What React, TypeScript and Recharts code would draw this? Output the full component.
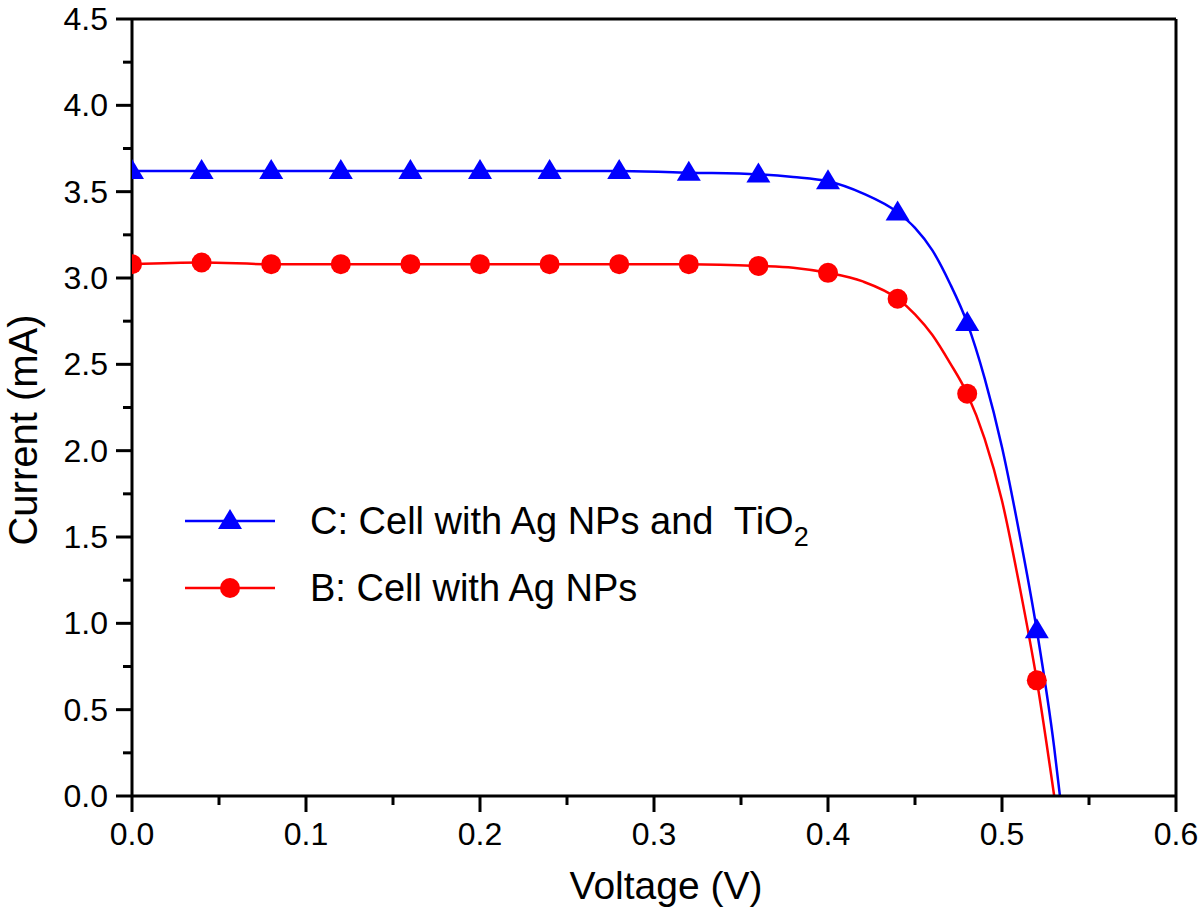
import React from 'react';
import { ComposedChart, Line, XAxis, YAxis, ReferenceLine, Legend } from 'recharts';

// marker positions (every 0.04 V)
const markerVoltage = [0, 0.04, 0.08, 0.12, 0.16, 0.2, 0.24, 0.28, 0.32, 0.36, 0.4, 0.44, 0.48, 0.52];
const cellCMarkers = [3.62, 3.62, 3.62, 3.62, 3.62, 3.62, 3.62, 3.62, 3.61, 3.60, 3.56, 3.38, 2.74, 0.96];
const cellBMarkers = [3.08, 3.09, 3.08, 3.08, 3.08, 3.08, 3.08, 3.08, 3.08, 3.07, 3.03, 2.88, 2.33, 0.67];

// measured curves
const curveVoltageC = [0, 0.04, 0.08, 0.12, 0.16, 0.2, 0.24, 0.28, 0.32, 0.36, 0.38, 0.4, 0.42, 0.44, 0.45, 0.46, 0.47, 0.48, 0.49, 0.5, 0.51, 0.52, 0.53, 0.5333];
const curveCurrentC = [3.62, 3.62, 3.62, 3.62, 3.62, 3.62, 3.62, 3.62, 3.61, 3.60, 3.585, 3.56, 3.49, 3.38, 3.29, 3.16, 2.97, 2.74, 2.42, 2.02, 1.52, 0.96, 0.28, 0];
const curveVoltageB = [0, 0.04, 0.08, 0.12, 0.16, 0.2, 0.24, 0.28, 0.32, 0.36, 0.38, 0.4, 0.42, 0.44, 0.45, 0.46, 0.47, 0.48, 0.49, 0.5, 0.51, 0.52, 0.53];
const curveCurrentB = [3.08, 3.09, 3.08, 3.08, 3.08, 3.08, 3.08, 3.08, 3.08, 3.07, 3.06, 3.03, 2.98, 2.88, 2.79, 2.67, 2.51, 2.33, 2.07, 1.71, 1.22, 0.67, 0];

const xTicks = [0, 0.05, 0.1, 0.15, 0.2, 0.25, 0.3, 0.35, 0.4, 0.45, 0.5, 0.55, 0.6];
const yTicks = [0, 0.25, 0.5, 0.75, 1, 1.25, 1.5, 1.75, 2, 2.25, 2.5, 2.75, 3, 3.25, 3.5, 3.75, 4, 4.25, 4.5];

const legendC = 'C: Cell with Ag NPs and  TiO';
const legendB = 'B: Cell with Ag NPs';

const BLUE = '#0000ff';
const RED = '#ff0000';
const FONT = '"Liberation Sans", Arial, Helvetica, sans-serif';

const zip = (xs: number[], ys: number[]) => xs.map((v, i) => ({ v, i: ys[i] }));
const curveC = zip(curveVoltageC, curveCurrentC);
const curveB = zip(curveVoltageB, curveCurrentB);
const dotsC = zip(markerVoltage, cellCMarkers);
const dotsB = zip(markerVoltage, cellBMarkers);

const isMajor = (v: number, step: number) => Math.abs(v / step - Math.round(v / step)) < 1e-6;

const triPath = (cx: number, cy: number) =>
  `M${cx},${cy - 12} L${cx + 12},${cy + 8} L${cx - 12},${cy + 8} Z`;

const Triangle = (props: any) => {
  const { cx, cy, index } = props;
  if (cx == null || cy == null) return null;
  return <path key={`t-${index}`} d={triPath(cx, cy)} fill={BLUE} />;
};

const Circle = (props: any) => {
  const { cx, cy, index } = props;
  if (cx == null || cy == null) return null;
  return <circle key={`c-${index}`} cx={cx} cy={cy} r={10} fill={RED} />;
};

const XTick = (props: any) => {
  const { x, y, payload } = props;
  const major = isMajor(payload.value, 0.1);
  return (
    <g>
      <line x1={x} y1={y} x2={x} y2={y + (major ? 16 : 9)} stroke="#000" strokeWidth={3} />
      {major && (
        <text x={x} y={y + 49} textAnchor="middle" fontSize={32} fontFamily={FONT} fill="#000">
          {payload.value.toFixed(1)}
        </text>
      )}
    </g>
  );
};

const YTick = (props: any) => {
  const { x, y, payload } = props;
  const major = isMajor(payload.value, 0.5);
  return (
    <g>
      <line x1={x} y1={y} x2={x - (major ? 16 : 9)} y2={y} stroke="#000" strokeWidth={3} />
      {major && (
        <text x={x - 24} y={y + 11} textAnchor="end" fontSize={32} fontFamily={FONT} fill="#000">
          {payload.value.toFixed(1)}
        </text>
      )}
    </g>
  );
};

const LegendBox = () => (
  <svg width={700} height={140} style={{ position: 'absolute', left: 170, top: 480, overflow: 'visible' }}>
    <line x1={15} y1={41} x2={105} y2={41} stroke={BLUE} strokeWidth={2.5} />
    <path d={triPath(60, 41)} fill={BLUE} />
    <text x={140} y={54} fontSize={38} fontFamily={FONT} fill="#000" style={{ whiteSpace: 'pre' }}>
      {legendC}
      <tspan fontSize={27} dy={12}>2</tspan>
    </text>
    <line x1={15} y1={108} x2={105} y2={108} stroke={RED} strokeWidth={2.5} />
    <circle cx={60} cy={108} r={10} fill={RED} />
    <text x={140} y={121} fontSize={38} fontFamily={FONT} fill="#000">
      {legendB}
    </text>
  </svg>
);

export default function App() {
  return (
    <div style={{ position: 'absolute', left: 0, top: 0, width: 1200, height: 908, background: '#fff' }}>
      <ComposedChart width={1200} height={908} margin={{ top: 19, right: 24, bottom: 0, left: 0 }}>
        <XAxis
          type="number"
          dataKey="v"
          domain={[0, 0.6]}
          ticks={xTicks}
          interval={0}
          height={112}
          tickSize={0}
          tickMargin={0}
          tick={<XTick />}
          axisLine={{ stroke: '#000', strokeWidth: 3 }}
          allowDataOverflow
          label={{
            content: () => (
              <text x={666} y={899} textAnchor="middle" fontSize={39} fontFamily={FONT} fill="#000">
                Voltage (V)
              </text>
            ),
          }}
        />
        <YAxis
          type="number"
          domain={[0, 4.5]}
          ticks={yTicks}
          interval={0}
          width={132}
          tickSize={0}
          tickMargin={0}
          tick={<YTick />}
          axisLine={{ stroke: '#000', strokeWidth: 3 }}
          allowDataOverflow
          label={{
            content: () => (
              <text transform="translate(37,430) rotate(-90)" textAnchor="middle" fontSize={40} fontFamily={FONT} fill="#000">
                Current (mA)
              </text>
            ),
          }}
        />
        <ReferenceLine y={4.5} stroke="#000" strokeWidth={3} />
        <ReferenceLine x={0.6} stroke="#000" strokeWidth={3} />
        <Line data={curveC} dataKey="i" type="monotone" stroke={BLUE} strokeWidth={2.5} dot={false} activeDot={false} isAnimationActive={false} />
        <Line data={curveB} dataKey="i" type="monotone" stroke={RED} strokeWidth={2.5} dot={false} activeDot={false} isAnimationActive={false} />
        <Line data={dotsC} dataKey="i" stroke="none" dot={Triangle} activeDot={false} isAnimationActive={false} />
        <Line data={dotsB} dataKey="i" stroke="none" dot={Circle} activeDot={false} isAnimationActive={false} />
        <Legend layout="vertical" align="center" verticalAlign="middle" wrapperStyle={{ left: 0, top: 0 }} content={<LegendBox />} />
      </ComposedChart>
    </div>
  );
}
